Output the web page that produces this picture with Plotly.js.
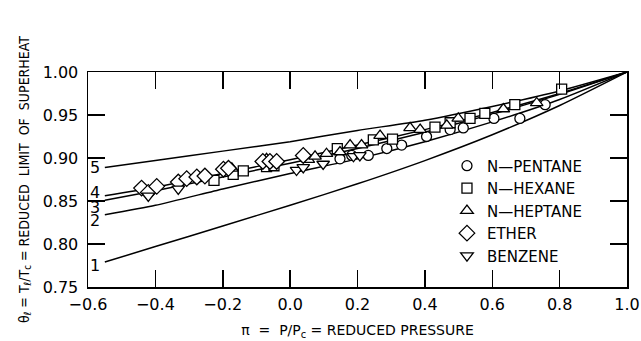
<!DOCTYPE html>
<html>
<head>
<meta charset="utf-8">
<script src="https://cdn.plot.ly/plotly-3.0.1.min.js"></script>
<style>html,body{margin:0;padding:0;background:#fff;}#chart{width:641px;height:341px;}</style>
</head>
<body>
<div id="chart"></div>
<script>
// ---- curves (theory lines 1-5) ----
const curveLabels = ['1', '2', '3', '4', '5'];
const curveX = [-0.55, -0.4, -0.2, 0.0, 0.2, 0.4, 0.6, 0.8, 1.0];
const curve1 = [0.779, 0.797, 0.821, 0.845, 0.870, 0.897, 0.927, 0.961, 1.0];
const curve2 = [0.834, 0.845, 0.864, 0.882, 0.899, 0.919, 0.942, 0.968, 1.0];
const curve3 = [0.851, 0.862, 0.878, 0.894, 0.911, 0.930, 0.951, 0.974, 1.0];
const curve4 = [0.856, 0.866, 0.882, 0.898, 0.915, 0.933, 0.953, 0.975, 1.0];
const curve5 = [0.889, 0.897, 0.908, 0.919, 0.932, 0.944, 0.960, 0.978, 1.0];

// ---- experimental data ----
const seriesNames = ['N—PENTANE', 'N—HEXANE', 'N—HEPTANE', 'ETHER', 'BENZENE'];
const pentaneX = [0.148, 0.183, 0.232, 0.287, 0.331, 0.405, 0.475, 0.514, 0.605, 0.682, 0.757];
const pentaneY = [0.899, 0.903, 0.903, 0.911, 0.915, 0.925, 0.933, 0.935, 0.946, 0.946, 0.962];
const hexaneX = [-0.226, -0.169, -0.139, -0.070, -0.048, 0.140, 0.247, 0.304, 0.430, 0.475, 0.534, 0.578, 0.667, 0.806];
const hexaneY = [0.874, 0.881, 0.885, 0.890, 0.891, 0.911, 0.921, 0.922, 0.936, 0.941, 0.946, 0.952, 0.962, 0.980];
const heptaneX = [-0.173, -0.070, 0.054, 0.074, 0.108, 0.148, 0.178, 0.212, 0.267, 0.356, 0.386, 0.465, 0.499, 0.633, 0.732];
const heptaneY = [0.888, 0.899, 0.898, 0.902, 0.905, 0.907, 0.915, 0.915, 0.926, 0.935, 0.933, 0.938, 0.946, 0.957, 0.964];
const etherX = [-0.441, -0.421, -0.396, -0.332, -0.307, -0.277, -0.253, -0.198, -0.183, -0.081, -0.060, -0.040, 0.039];
const etherY = [0.865, 0.860, 0.867, 0.872, 0.876, 0.878, 0.879, 0.887, 0.888, 0.896, 0.896, 0.896, 0.903];
const benzeneX = [-0.421, -0.332, 0.019, 0.039, 0.098, 0.188, 0.207];
const benzeneY = [0.856, 0.864, 0.886, 0.889, 0.893, 0.902, 0.903];

const xTicks = [-0.6, -0.4, -0.2, 0.0, 0.2, 0.4, 0.6, 0.8, 1.0];
const yTicks = [0.75, 0.80, 0.85, 0.90, 0.95, 1.00];

const curves = [curve1, curve2, curve3, curve4, curve5];
const labelShift = [-3, -6, -7, 3, 0];

const traces = [];
curves.forEach(function (c) {
  traces.push({
    x: curveX, y: c, mode: 'lines', type: 'scatter', showlegend: false,
    line: {color: '#000', width: 1.5, shape: 'spline', smoothing: 0.6},
    hoverinfo: 'skip'
  });
});

const dataSets = [
  [pentaneX, pentaneY, 'circle', 10],
  [hexaneX, hexaneY, 'square', 10],
  [heptaneX, heptaneY, 'triangle-up', 11],
  [etherX, etherY, 'diamond', 12],
  [benzeneX, benzeneY, 'triangle-down', 11]
];
dataSets.forEach(function (d, i) {
  traces.push({
    x: d[0], y: d[1], name: seriesNames[i], mode: 'markers', type: 'scatter',
    marker: {symbol: d[2], size: d[3], color: '#fff', line: {color: '#000', width: 1.3}}
  });
});

const annotations = curves.map(function (c, i) {
  return {
    x: curveX[0], y: c[0], xref: 'x', yref: 'y', text: curveLabels[i],
    showarrow: false, xanchor: 'right', yanchor: 'middle', xshift: -3, yshift: labelShift[i],
    font: {family: 'DejaVu Sans', size: 16, color: '#000'}
  };
});

function axis(extra) {
  return Object.assign({
    showgrid: false, zeroline: false, showline: true, linecolor: '#000', linewidth: 1.5,
    mirror: 'ticks', ticks: 'inside', ticklen: 17, tickwidth: 1.5, tickcolor: '#000',
    tickmode: 'array', showticklabels: true, layer: 'above traces',
    tickfont: {family: 'DejaVu Sans', size: 16, color: '#000'}
  }, extra);
}

const layout = {
  width: 641, height: 341,
  margin: {l: 88, r: 14, t: 72, b: 54},
  paper_bgcolor: '#fff', plot_bgcolor: '#fff',
  showlegend: true,
  legend: {
    x: 0.666, y: 0.64, xanchor: 'left', yanchor: 'top',
    bgcolor: 'rgba(0,0,0,0)', borderwidth: 0,
    font: {family: 'DejaVu Sans', size: 15, color: '#000'},
    tracegroupgap: 0
  },
  xaxis: axis({
    range: [-0.6, 1.0], tickvals: xTicks, tickformat: '.1f', ticklabelstandoff: 2,
    title: {text: 'π  =  P/P<sub>c</sub> = REDUCED PRESSURE', standoff: 12,
            font: {family: 'DejaVu Sans', size: 14, color: '#000'}}
  }),
  yaxis: axis({
    range: [0.75, 1.0], tickvals: yTicks, tickformat: '.2f', ticklabelstandoff: 5,
    title: {text: 'θ<sub>ℓ</sub> = T<sub>ℓ</sub>/T<sub>c</sub> = REDUCED  LIMIT  OF  SUPERHEAT', standoff: 10,
            font: {family: 'DejaVu Sans Condensed, DejaVu Sans', size: 14, color: '#000'}}
  }),
  annotations: annotations
};

Plotly.newPlot('chart', traces, layout, {displayModeBar: false, staticPlot: true});
</script>
</body>
</html>
